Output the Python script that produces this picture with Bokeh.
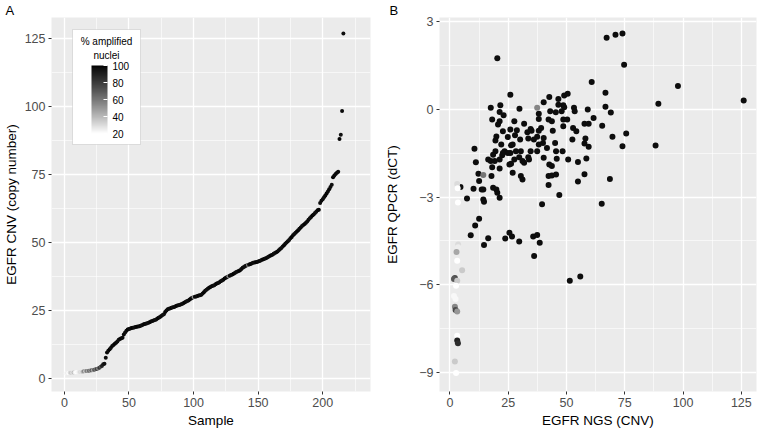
from bokeh.plotting import figure
from bokeh.layouts import row
from bokeh.models import (Range1d, FixedTicker, LinearColorMapper, ColorBar,
                          BoxAnnotation, Label, ColumnDataSource)
from bokeh.embed import file_html
from bokeh.resources import INLINE

# ---------------- data: panel A (sorted CNV per sample) ----------------
cnv_a = [
    1.9, 2.0, 2.0, 2.1, 2.1, 2.1, 2.2, 2.2, 2.3, 2.3,
    2.4, 2.4, 2.5, 2.5, 2.6, 2.6, 2.7, 2.7, 2.8, 2.9,
    3.0, 3.0, 3.2, 3.4, 3.5, 3.7, 3.9, 4.3, 4.6, 5.2,
    5.4, 7.6, 9.5, 10.2, 10.7, 11.3, 11.9, 12.3, 12.8, 13.1,
    13.6, 14.2, 14.5, 14.8, 15.0, 16.2, 16.9, 17.5, 18.0, 18.2,
    18.4, 18.5, 18.6, 18.7, 18.9, 19.0, 19.1, 19.2, 19.4, 19.6,
    19.8, 20.0, 20.1, 20.3, 20.5, 20.7, 20.9, 21.1, 21.3, 21.5,
    21.7, 22.0, 22.3, 22.6, 23.0, 23.3, 23.6, 24.4, 25.0, 25.4,
    25.6, 25.8, 26.0, 26.2, 26.3, 26.5, 26.7, 26.9, 27.0, 27.2,
    27.4, 27.6, 27.9, 28.2, 28.5, 28.7, 29.0, 29.4, 29.7, 29.9,
    30.0, 30.1, 30.3, 30.5, 30.6, 30.8, 31.2, 31.7, 32.2, 32.6,
    33.0, 33.3, 33.6, 33.9, 34.1, 34.3, 34.6, 34.9, 35.1, 35.4,
    35.7, 36.0, 36.3, 36.7, 37.0, 37.3, 37.6, 37.8, 38.0, 38.2,
    38.5, 38.8, 39.1, 39.3, 39.5, 39.8, 40.2, 40.7, 41.0, 41.3,
    41.5, 41.7, 41.9, 42.1, 42.3, 42.5, 42.6, 42.7, 42.8, 43.0,
    43.2, 43.4, 43.6, 43.8, 44.0, 44.2, 44.5, 44.7, 45.0, 45.3,
    45.5, 45.8, 46.1, 46.4, 46.7, 47.1, 47.6, 48.0, 48.5, 49.0,
    49.5, 50.0, 50.4, 50.9, 51.5, 52.0, 52.6, 53.1, 53.6, 54.0,
    54.5, 55.0, 55.5, 56.0, 56.4, 56.8, 57.2, 57.7, 58.3, 58.9,
    59.4, 59.9, 60.3, 60.8, 61.3, 61.8, 62.0, 64.5, 65.3, 65.9,
    66.6, 67.3, 68.0, 68.7, 69.6, 70.4, 71.2, 74.0, 74.6, 75.2,
    75.6, 76.0, 88.0, 89.6, 98.3, 126.8,
]
pct_a = [
    22, 25, 20, 30, 35, 28, 38, 24, 20, 22,
    26, 30, 28, 40, 55, 35, 60, 45, 65, 50,
    70, 45, 72, 60, 78, 55, 82, 70, 88, 92,
    96, 97, 98, 97, 99, 96, 98, 97, 99, 98,
    97, 96, 98, 99, 97, 98, 96, 97, 99, 98,
    97, 98, 99, 96, 97, 98, 99, 97, 98, 96,
    97, 99, 98, 97, 96, 98, 99, 97, 98, 97,
    96, 98, 99, 97, 98, 97, 96, 99, 98, 97,
    98, 97, 99, 96, 98, 97, 99, 98, 97, 96,
    98, 97, 99, 98, 96, 97, 98, 99, 97, 50,
    97, 98, 96, 99, 97, 98, 97, 99, 98, 96,
    97, 98, 99, 97, 98, 96, 97, 99, 98, 97,
    98, 96, 97, 99, 98, 97, 55, 98, 96, 97,
    99, 98, 97, 96, 98, 99, 97, 98, 97, 96,
    98, 60, 97, 99, 98, 97, 96, 98, 99, 97,
    98, 97, 96, 99, 98, 97, 98, 96, 97, 99,
    98, 97, 96, 98, 99, 97, 98, 97, 96, 99,
    98, 97, 98, 96, 97, 99, 98, 97, 96, 98,
    99, 97, 98, 97, 96, 99, 98, 97, 98, 96,
    97, 99, 98, 97, 96, 98, 99, 97, 98, 97,
    96, 98, 99, 97, 98, 97, 96, 99, 98, 97,
    98, 97, 99, 96, 98, 97,
]
sample_a = list(range(1, len(cnv_a) + 1))

# ---------------- data: panel B (NGS CNV vs qPCR dCT) ----------------
ngs_b = [
    20.3, 67.2, 71.0, 74.0, 74.7, 60.8, 97.8, 126.0, 89.4, 66.7,
    66.7, 69.0, 61.6, 59.1, 65.3, 69.7, 75.6, 74.0, 88.2, 68.6,
    57.7, 54.9, 58.5, 59.5, 57.7, 58.1, 54.9, 50.7, 46.9, 42.3,
    42.3, 43.7, 45.5, 42.6, 43.7, 45.8, 48.3, 45.5, 45.1, 41.6,
    40.2, 37.4, 38.1, 39.9, 40.2, 44.1, 48.6, 48.6, 47.9, 48.6,
    49.0, 46.5, 46.5, 45.4, 43.7, 42.3, 43.0, 42.6, 40.2, 38.1,
    38.1, 39.1, 38.1, 36.0, 33.6, 35.0, 33.2, 30.1, 31.8, 27.6,
    29.8, 25.9, 17.5, 21.6, 21.3, 23.0, 18.1, 21.3, 20.6, 25.9,
    28.7, 22.7, 27.9, 24.8, 19.9, 19.5, 34.6, 33.6, 30.4, 28.3,
    25.9, 27.6, 29.7, 31.1, 25.5, 26.9, 30.4, 31.1, 23.4, 22.4,
    24.8, 26.9, 22.0, 21.3, 19.5, 18.5, 16.4, 17.5, 19.2, 18.1,
    21.3, 17.8, 12.2, 10.5, 11.1, 12.5, 10.1, 13.6, 14.3, 18.5,
    19.9, 20.3, 21.3, 4.5, 7.3, 14.3, 14.6, 12.5, 10.8, 8.9,
    14.6, 16.4, 23.7, 25.5, 26.6, 29.7, 35.7, 37.4, 38.5, 36.1,
    51.4, 55.9, 39.5, 65.1, 50.5, 49.0, 53.2, 53.5, 50.3, 57.7,
    59.5, 52.8, 54.2, 52.5, 34.6, 37.4, 26.2, 22.7, 33.9, 31.8,
    26.2,
    37.4, 14.3, 3.1, 3.3, 3.4, 3.5, 3.5, 2.8, 5.2, 3.1,
    2.1, 1.7, 3.1, 2.6, 1.7, 2.4, 2.1, 2.4, 3.1, 3.1,
    3.1, 3.4, 2.1, 2.6,
]
dct_b = [
    1.75, 2.45, 2.55, 2.59, 1.52, 0.93, 0.80, 0.30, 0.19, 0.57,
    0.09, -0.11, -0.30, -0.01, -0.56, -0.94, -0.83, -1.26, -1.24, -2.38,
    -2.22, -2.47, -1.68, -1.28, -1.17, -1.00, -1.80, -1.72, -2.93, -2.59,
    -2.28, -2.26, -2.23, -1.89, -1.94, -1.69, -1.43, -1.43, -1.15, -1.32,
    -1.66, -1.43, -1.20, -1.15, -0.98, -0.73, -0.58, -0.35, -0.07, 0.14,
    0.47, 0.16, 0.35, -0.10, -0.41, -0.35, -0.07, 0.42, 0.24, -0.15,
    -0.33, -0.64, -0.73, -1.03, -1.00, -0.73, -0.78, -1.03, -0.49, -0.41,
    0.02, 0.50, 0.05, 0.14, -0.09, -0.20, -0.35, -0.41, -0.52, -0.69,
    -0.72, -0.75, -0.89, -0.95, -0.93, -1.07, -1.43, -1.64, -1.43, -1.43,
    -1.49, -1.72, -1.64, -1.77, -1.89, -2.17, -2.28, -2.40, -1.43, -1.57,
    -1.49, -1.20, -1.20, -1.72, -1.43, -1.55, -1.72, -1.77, -1.77, -1.98,
    -2.02, -2.28, -2.20, -1.35, -1.81, -2.45, -2.72, -2.74, -2.74, -2.68,
    -2.74, -2.85, -3.02, -2.66, -3.05, -3.08, -3.16, -3.74, -3.97, -4.31,
    -4.64, -4.41, -4.42, -4.22, -4.35, -4.52, -4.35, -4.30, -4.56, -5.02,
    -5.86, -5.72, -3.25, -3.23, 0.53, 0.07, 0.05, -0.07, -0.35, -0.49,
    -0.49, -0.64, -0.75, -1.03, -0.67, -0.94, -1.23, -1.49, -1.72, -1.83,
    -1.86,
    0.05, -2.25, -2.55, -2.70, -3.19, -4.62, -4.72, -4.88, -5.50, -5.18,
    -5.77, -5.80, -5.86, -6.03, -6.38, -6.49, -6.75, -6.86, -6.91, -7.74,
    -7.91, -8.00, -8.62, -9.02,
]
pct_b = [97] * 161 + [
    55, 60, 30, 20, 20, 30, 25, 45, 35, 20,
    75, 70, 35, 20, 22, 22, 55, 75, 50, 20,
    90, 85, 35, 20,
]

# tick positions
xa_major = [0, 50, 100, 150, 200]
xa_minor = [25, 75, 125, 175, 225]
ya_major = [0, 25, 50, 75, 100, 125]
ya_minor = [12.5, 37.5, 62.5, 87.5, 112.5]
xb_major = [0, 25, 50, 75, 100, 125]
xb_minor = [12.5, 37.5, 62.5, 87.5, 112.5]
yb_major = [-9, -6, -3, 0, 3]
yb_minor = [-7.5, -4.5, -1.5, 1.5]
legend_ticks = [20, 40, 60, 80, 100]


# ---------------- colour scale: white -> black interpolated in CIELAB ----------------
def lab_gray(t):
    L = 100.0 * (1.0 - t)
    fy = (L + 16.0) / 116.0
    Y = fy ** 3 if fy ** 3 > 0.008856 else L / 903.3
    c = 12.92 * Y if Y <= 0.0031308 else 1.055 * Y ** (1 / 2.4) - 0.055
    v = int(round(max(0.0, min(1.0, c)) * 255))
    return "#%02x%02x%02x" % (v, v, v)


palette = [lab_gray(i / 255.0) for i in range(256)]
mapper = LinearColorMapper(palette=palette, low=20, high=100)

FONT = "Liberation Sans"
FH = 374


def style(p, panel_letter, letter_offset):
    p.background_fill_color = "#EBEBEB"
    p.border_fill_color = "white"
    p.outline_line_color = None
    p.title.text = panel_letter
    p.title.align = "left"
    p.title.offset = letter_offset
    p.title.standoff = 0
    p.title.text_font = FONT
    p.title.text_font_size = "13px"
    p.title.text_font_style = "normal"
    p.title.text_color = "black"
    for ax in p.axis:
        ax.axis_line_color = None
        ax.major_tick_line_color = "#333333"
        ax.major_tick_line_width = 1
        ax.major_tick_out = 3
        ax.major_tick_in = 0
        ax.minor_tick_line_color = None
        ax.major_label_text_color = "#4D4D4D"
        ax.major_label_text_font = FONT
        ax.major_label_text_font_size = "12.5px"
        ax.major_label_standoff = 2
        ax.axis_label_text_font = FONT
        ax.axis_label_text_font_size = "13.5px"
        ax.axis_label_text_font_style = "normal"
        ax.axis_label_text_color = "black"
        ax.axis_label_standoff = 3
    p.grid.grid_line_color = "white"
    p.grid.grid_line_width = 1.3
    p.grid.minor_grid_line_color = "white"
    p.grid.minor_grid_line_width = 0.6


# ---------------- panel A ----------------
xa0, xa1 = -10.0, 237.0
ya0, ya1 = -4.8, 132.7
FW_A = 319
pa = figure(frame_width=FW_A, frame_height=FH, x_range=Range1d(xa0, xa1),
            y_range=Range1d(ya0, ya1), output_backend="svg", toolbar_location=None,
            min_border_left=46, min_border_right=12, min_border_top=14, min_border_bottom=38,
            x_axis_label="Sample", y_axis_label="EGFR CNV (copy number)")
style(pa, "A", -46)
tx = FixedTicker(ticks=xa_major, minor_ticks=xa_minor)
ty = FixedTicker(ticks=ya_major, minor_ticks=ya_minor)
pa.xaxis.ticker = tx
pa.yaxis.ticker = ty
pa.xgrid.ticker = tx
pa.ygrid.ticker = ty

src_a = ColumnDataSource(dict(x=sample_a, y=cnv_a, pct=pct_a))
pa.scatter("x", "y", source=src_a, size=4,
           fill_color={"field": "pct", "transform": mapper}, line_color=None)


def ax_x(px):
    return xa0 + px / FW_A * (xa1 - xa0)


def ax_y(py):
    return ya1 - py / FH * (ya1 - ya0)


box = BoxAnnotation(left=ax_x(21), right=ax_x(89), top=ax_y(12), bottom=ax_y(127),
                    fill_color="white", fill_alpha=1.0, line_color="#A0A0A0", line_width=1)
pa.add_layout(box)
for txt, py in (("% amplified", 24), ("nuclei", 37.5)):
    pa.add_layout(Label(x=ax_x(55), y=ax_y(py), text=txt, text_align="center",
                        text_baseline="middle", text_font=FONT, text_font_size="10px",
                        text_color="black"))
cbar = ColorBar(color_mapper=mapper, ticker=FixedTicker(ticks=legend_ticks),
                location=(40, FH - 116), width=16, height=68, padding=0, margin=0,
                title=None, bar_line_color=None, border_line_color=None,
                background_fill_color=None, background_fill_alpha=0,
                major_tick_line_color="white", major_tick_in=4, major_tick_out=0,
                major_label_text_font=FONT, major_label_text_font_size="10px",
                major_label_text_color="black", label_standoff=5)
pa.add_layout(cbar)

# ---------------- panel B ----------------
xb0, xb1 = -4.5, 131.5
yb0, yb1 = -9.65, 3.14
pb = figure(frame_width=317, frame_height=FH, x_range=Range1d(xb0, xb1),
            y_range=Range1d(yb0, yb1), output_backend="svg", toolbar_location=None,
            min_border_left=55, min_border_right=1, min_border_top=14, min_border_bottom=38,
            x_axis_label="EGFR NGS (CNV)", y_axis_label="EGFR QPCR (dCT)")
style(pb, "B", -50)
pb.yaxis.axis_label_standoff = 16
txb = FixedTicker(ticks=xb_major, minor_ticks=xb_minor)
tyb = FixedTicker(ticks=yb_major, minor_ticks=yb_minor)
pb.xaxis.ticker = txb
pb.yaxis.ticker = tyb
pb.xgrid.ticker = txb
pb.ygrid.ticker = tyb
pb.yaxis.major_label_overrides = {v: ("\u2212%d" % -v if v < 0 else "%d" % v) for v in yb_major}

src_b = ColumnDataSource(dict(x=ngs_b, y=dct_b, pct=pct_b))
pb.scatter("x", "y", source=src_b, size=6,
           fill_color={"field": "pct", "transform": mapper}, line_color=None)

layout = row(pa, pb)
open("out.html", "w").write(file_html(layout, INLINE))
